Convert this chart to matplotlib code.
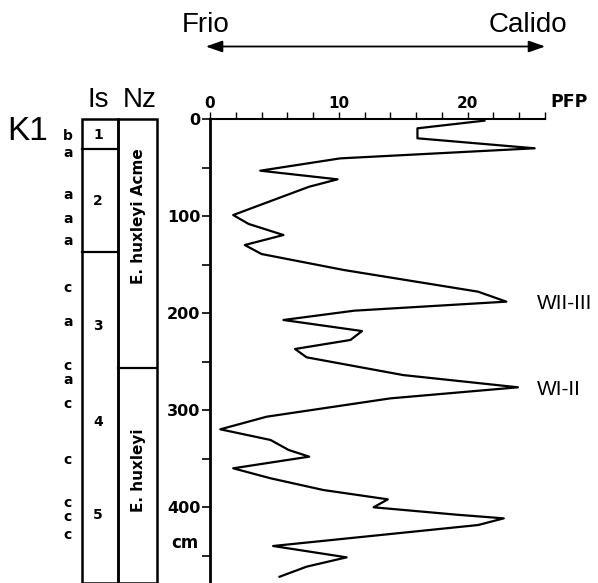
import matplotlib
matplotlib.use("Agg")
import matplotlib.pyplot as plt
from matplotlib.patches import Rectangle, FancyArrowPatch

plt.rcParams['font.family'] = ['Liberation Sans', 'DejaVu Sans']
BOLD = ['DejaVu Sans']

# ---- data ----
depth = [1.7, 9.6, 19.9, 30.2, 40.6, 53.3, 62.2, 69.8, 99, 108.2, 119.6, 129.9, 139.2,
         155.7, 178, 188.3, 197.6, 207.2, 218.6, 227.8, 237.1, 245.7, 264, 276.6, 288,
         306.9, 319.9, 330.9, 341.2, 348.1, 360.1, 370.4, 382.5, 392.1, 400.3, 408,
         411.7, 418.6, 440.2, 451.9, 461.5, 471.9]
pfp = [21.3, 16.1, 16.1, 25.2, 10.1, 3.9, 9.9, 7.7, 1.8, 3.0, 5.7, 2.7, 4.0,
       10.4, 20.8, 23.0, 11.2, 5.7, 11.8, 10.9, 6.6, 7.5, 15.0, 23.9, 14.0,
       4.4, 0.8, 4.7, 6.1, 7.7, 1.8, 4.7, 8.8, 13.8, 12.7, 19.2,
       22.8, 20.8, 4.9, 10.6, 7.5, 5.4]

is_bounds = [31, 137]
is_labels = ["1", "2", "3", "4", "5"]
is_label_depths = [16.5, 85, 213, 312, 408]
nz_bounds = [257]
nz_labels = ["E. huxleyi Acme", "E. huxleyi"]
nz_label_depths = [100, 362]
side_letters = ["b", "a", "a", "a", "a", "c", "a", "c", "a", "c", "c", "c", "c", "c"]
side_depths = [17.5, 34.7, 78, 103, 126, 174.5, 209, 255, 269, 294, 351.5, 396, 410, 429]
events = ["WII-III", "WI-II"]
event_depths = [188.3, 276.6]

W, H = 598, 583
fig = plt.figure(figsize=(W / 100, H / 100), dpi=100)

ymax = (583 - 119) / 0.97
ax_b = (H - 583) / H
ax_h = (583 - 119) / H

# main axes
ax = fig.add_axes([210 / W, ax_b, (545 - 210) / W, ax_h])
ax.plot(pfp, depth, color='black', lw=1.6)
ax.set_xlim(0, 26)
ax.set_ylim(ymax, 0)
ax.spines['right'].set_visible(False)
ax.spines['bottom'].set_visible(False)
ax.spines['left'].set_linewidth(2)
ax.spines['top'].set_linewidth(1.5)
ax.xaxis.tick_top()
ax.set_xticks([0, 10, 20])
ax.set_xticks(range(0, 27, 2), minor=True)
ax.set_yticks([0, 100, 200, 300, 400])
ax.set_yticks([50, 150, 250, 350, 450], minor=True)
ax.tick_params(axis='x', which='both', direction='out', length=5, width=1, pad=1,
               labelsize=11)
ax.tick_params(axis='y', which='both', direction='out', length=6, width=1.2, pad=1,
               labelsize=11.5)
for lab in ax.get_xticklabels() + ax.get_yticklabels():
    lab.set_fontweight('bold')
    lab.set_family(BOLD)
ax.text(26.4, -8, "PFP", fontsize=12.5, fontweight='bold', family=BOLD,
        ha='left', va='bottom')
ax.text(-0.9, 437, "cm", fontsize=12, fontweight='bold', family=BOLD,
        ha='right', va='center')
for ev, d in zip(events, event_depths):
    ax.text(25.4, d + 2, ev, fontsize=15, ha='left', va='center')

# column axes
axc = fig.add_axes([0, ax_b, 210 / W, ax_h])
axc.set_xlim(0, 210)
axc.set_ylim(ymax, 0)
axc.axis('off')
x0, x1, x2 = 82, 118, 157
axc.add_patch(Rectangle((x0, 0), x1 - x0, ymax, fill=False, lw=1.8, ec='black',
                        clip_on=False))
axc.add_patch(Rectangle((x1, 0), x2 - x1, ymax, fill=False, lw=1.8, ec='black',
                        clip_on=False))
for b in is_bounds:
    axc.plot([x0, x1], [b, b], color='black', lw=1.6)
for b in nz_bounds:
    axc.plot([x1, x2], [b, b], color='black', lw=1.6)
for lab, d in zip(is_labels, is_label_depths):
    axc.text((x0 + x1) / 2 - 2, d, lab, fontsize=10, fontweight='bold', family=BOLD,
             ha='center', va='center')
for lab, d in zip(nz_labels, nz_label_depths):
    axc.text((x1 + x2) / 2 + 1, d, lab, fontsize=11, fontweight='bold', family=BOLD,
             ha='center', va='center', rotation=90)
for lab, d in zip(side_letters, side_depths):
    axc.text(68, d, lab, fontsize=10, fontweight='bold', family=BOLD,
             ha='center', va='center')

# header text
def ft(x, y, s, **kw):
    fig.text(x / W, 1 - y / H, s, **kw)

ft(98, 100, "Is", fontsize=20, ha='center', va='center')
ft(140, 100, "Nz", fontsize=20, ha='center', va='center')
ft(28, 132, "K1", fontsize=24, ha='center', va='center')
ft(206, 25, "Frio", fontsize=20, ha='center', va='center')
ft(528, 25, "Calido", fontsize=20, ha='center', va='center')
fig.patches.append(FancyArrowPatch(
    (203 / W, 1 - 46.5 / H), (548 / W, 1 - 46.5 / H), transform=fig.transFigure,
    arrowstyle='<|-|>,head_length=10,head_width=3.5', mutation_scale=1, color='black',
    lw=1.3))

fig.savefig("out.png", dpi=100)
